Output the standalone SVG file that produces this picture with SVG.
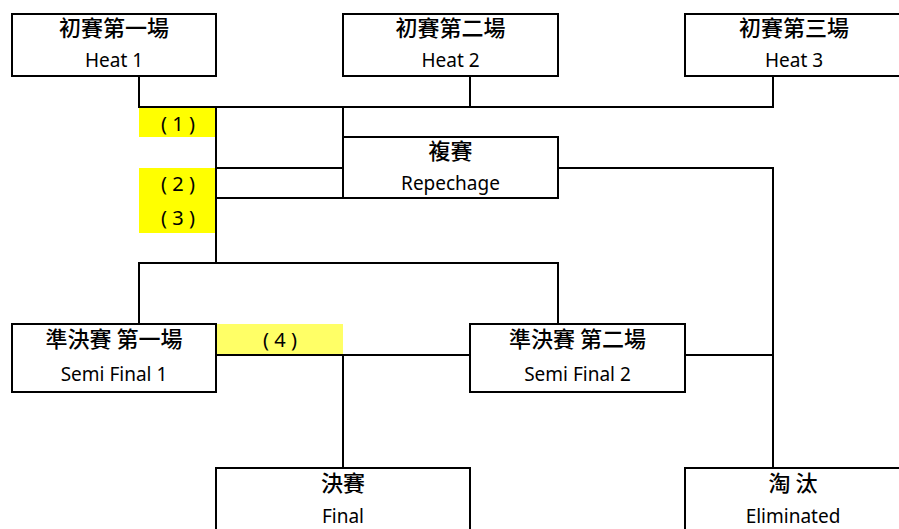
<svg xmlns="http://www.w3.org/2000/svg" width="899" height="529" viewBox="0 0 899 529">
<style>
.box{fill:#fff;stroke:#000;stroke-width:2}
.ln{fill:none;stroke:#000;stroke-width:2}
.cjk{font-family:"Noto Sans CJK TC","Noto Sans CJK SC",sans-serif;font-size:22px;font-weight:500;fill:#000;text-anchor:middle}
.lat{font-family:"Noto Sans","Open Sans",sans-serif;font-size:19px;fill:#000;text-anchor:middle}
.num{font-family:"Noto Sans","Open Sans",sans-serif;font-size:20px;fill:#000;text-anchor:middle}
.hl{fill:#FFFF00}
.hl2{fill:#FFFF66}
</style>
<rect width="899" height="529" fill="#fff"/>
<g id="highlights">
<rect class="hl" x="139" y="108" width="77" height="29"/>
<rect class="hl" x="139" y="168" width="77" height="65"/>
<rect class="hl2" x="216" y="324" width="127" height="30"/>
<text class="num" x="178" y="131" xml:space="preserve">( 1 )</text>
<text class="num" x="178" y="191" xml:space="preserve">( 2 )</text>
<text class="num" x="178" y="225" xml:space="preserve">( 3 )</text>
<text class="num" x="280" y="347" xml:space="preserve">( 4 )</text>
</g>
<g id="connectors">
<path class="ln" d="M139 76 V107 H774 M470 76 V107 M773 76 V107"/>
<path class="ln" d="M216 107 V264 M343 107 V137 M216 168 H343 M216 198 H343"/>
<path class="ln" d="M558 168 H773 V468"/>
<path class="ln" d="M139 324 V263 H558 V324"/>
<path class="ln" d="M216 355 H470 M343 355 V468 M685 355 H774"/>
</g>
<g id="heat1">
<rect class="box" x="12" y="14" width="204" height="62"/>
<text class="cjk" x="114" y="36">初賽第一場</text>
<text class="lat" x="114" y="67">Heat 1</text>
</g>
<g id="heat2">
<rect class="box" x="343" y="14" width="215" height="62"/>
<text class="cjk" x="450.5" y="36">初賽第二場</text>
<text class="lat" x="450.5" y="67">Heat 2</text>
</g>
<g id="heat3">
<rect class="box" x="685" y="14" width="218" height="62"/>
<text class="cjk" x="794" y="36">初賽第三場</text>
<text class="lat" x="794" y="67">Heat 3</text>
</g>
<g id="repechage">
<rect class="box" x="343" y="137" width="215" height="61"/>
<text class="cjk" x="450.5" y="159">複賽</text>
<text class="lat" x="450.5" y="190">Repechage</text>
</g>
<g id="semi1">
<rect class="box" x="12" y="324" width="204" height="68"/>
<text class="cjk" x="114" y="347">準決賽 第一場</text>
<text class="lat" x="114" y="381">Semi Final 1</text>
</g>
<g id="semi2">
<rect class="box" x="470" y="324" width="215" height="68"/>
<text class="cjk" x="577.5" y="347">準決賽 第二場</text>
<text class="lat" x="577.5" y="381">Semi Final 2</text>
</g>
<g id="final">
<rect class="box" x="216" y="468" width="254" height="80"/>
<text class="cjk" x="343" y="491">決賽</text>
<text class="lat" x="343" y="523">Final</text>
</g>
<g id="eliminated">
<rect class="box" x="685" y="468" width="216" height="80"/>
<text class="cjk" x="793" y="491" xml:space="preserve">淘 汰</text>
<text class="lat" x="793" y="523">Eliminated</text>
</g>
</svg>
